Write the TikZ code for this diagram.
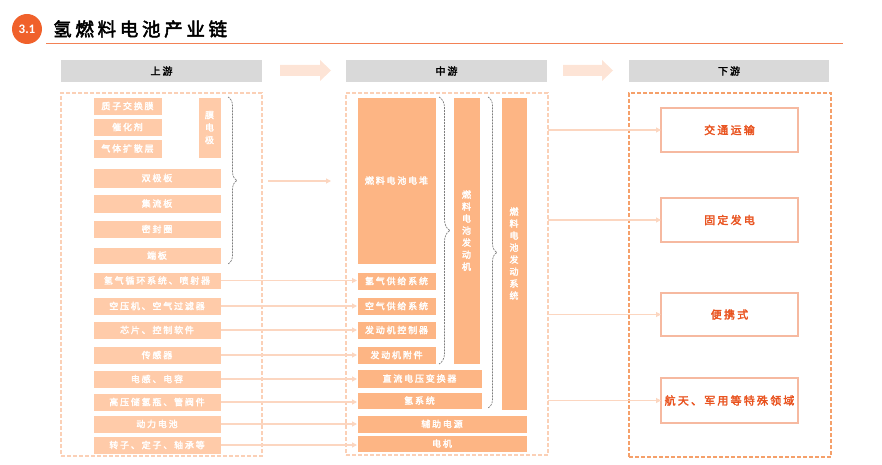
\documentclass[tikz,border=0pt]{standalone}
\usepackage{fontspec}
\newfontfamily\cjk[LetterSpace=20,FakeBold=2.6]{Noto Sans CJK SC}
\newfontfamily\numfont{Carlito}
\usetikzlibrary{arrows.meta,decorations.pathreplacing}
\definecolor{upfill}{HTML}{FFCBA9}
\definecolor{midfill}{HTML}{FDB584}
\definecolor{hdr}{HTML}{D9D9D9}
\definecolor{lightdash}{HTML}{FBD0B6}
\definecolor{downdash}{HTML}{F5A06A}
\definecolor{arrc}{HTML}{FCD6C0}
\definecolor{bigarr}{HTML}{FDE4D6}
\definecolor{downtxt}{HTML}{E9531F}
\definecolor{downbd}{HTML}{F6B9A0}
\definecolor{titleor}{HTML}{F0612B}
\definecolor{brgray}{HTML}{7F7F7F}
\newcommand\bx[7]{\node[#6, minimum width={(#4-#2)*1pt}, minimum height={(#5-#3)*1pt}] (#1) at ({(#2+#4)/2},{(#3+#5)/2}) {#7};}
\tikzset{
  boxbase/.style={rectangle, inner sep=0pt, outer sep=0pt},
  upb/.style={boxbase, fill=upfill, draw=white, line width=0.8pt, text=white, font=\cjk\fontsize{9}{12.5}\selectfont},
  midb/.style={boxbase, fill=midfill, draw=white, line width=0.8pt, text=white, font=\cjk\fontsize{9}{12}\selectfont},
  downb/.style={boxbase, fill=white, draw=downbd, line width=1.2pt, text=downtxt, font=\cjk\fontsize{11}{12}\selectfont},
  hdrb/.style={boxbase, fill=hdr, text=black, font=\cjk\fontsize{10}{12}\selectfont},
  cont/.style={boxbase, draw=lightdash, line width=1.2pt, dash pattern=on 4pt off 2pt},
  contd/.style={boxbase, draw=downdash, line width=1.2pt, dash pattern=on 4pt off 2pt},
  conn/.style={draw=arrc, line width=1.1pt, -{Triangle[width=5pt,length=5pt]}},
  bracegray/.style={draw=brgray, line width=0.7pt, dash pattern=on 2pt off 1pt, decorate},
}
\begin{document}
\begin{tikzpicture}[x=1pt,y=-1pt]
\useasboundingbox (0,0) rectangle (882,465);
% title
\node[circle, fill=titleor, minimum size=30pt, inner sep=0pt, text=white, font=\numfont\bfseries\fontsize{13}{13}\selectfont] (num) at (27,29) {3.1};
\node[anchor=west, inner sep=0pt, font=\cjk\fontsize{18.5}{19}\selectfont] (title) at (53,29) {氢燃料电池产业链};
\coordinate (ul1) at (46,44);
\coordinate (ul2) at (843,44);
\draw[titleor!80, line width=1pt] (ul1) -- (ul2);
% headers
\bx{h1}{61}{60}{262}{82}{hdrb}{上游}
\bx{h2}{346}{60}{547}{82}{hdrb}{中游}
\bx{h3}{629}{60}{829}{82}{hdrb}{下游}
\fill[bigarr] (280,65) -- (320,65) -- (320,60) -- (331,70.5) -- (320,81) -- (320,76) -- (280,76) -- cycle;
\fill[bigarr] (563,65) -- (602,65) -- (602,60) -- (613,70.5) -- (602,81) -- (602,76) -- (563,76) -- cycle;
% containers
\bx{upbox}{61}{93}{262}{456}{cont}{}
\bx{midbox}{346}{93}{548}{455}{cont}{}
\bx{downbox}{629}{93}{831}{457}{contd}{}
% upstream
\bx{u1}{93}{97}{162}{115}{upb}{质子交换膜}
\bx{u2}{93}{118}{162}{136}{upb}{催化剂}
\bx{u3}{93}{139}{162}{158}{upb}{气体扩散层}
\bx{u4}{198}{97}{221}{158}{upb,align=center}{膜\\电\\极}
\bx{u5}{93}{168}{221}{188}{upb}{双极板}
\bx{u6}{93}{194}{221}{213}{upb}{集流板}
\bx{u7}{93}{220}{221}{238}{upb}{密封圈}
\bx{u8}{93}{247}{221}{264}{upb}{端板}
\bx{u9}{93}{272}{221}{289}{upb}{氢气循环系统、喷射器}
\bx{u10}{93}{297}{221}{315}{upb}{空压机、空气过滤器}
\bx{u11}{93}{321}{221}{339}{upb}{芯片、控制软件}
\bx{u12}{93}{346}{221}{364}{upb}{传感器}
\bx{u13}{93}{370}{221}{388}{upb}{电感、电容}
\bx{u14}{93}{393}{221}{411}{upb}{高压储氢瓶、管阀件}
\bx{u15}{93}{415}{221}{433}{upb}{动力电池}
\bx{u16}{93}{436}{221}{454}{upb}{转子、定子、轴承等}
% midstream
\bx{m1}{357}{97}{436}{264}{midb}{燃料电池电堆}
\bx{m2}{453}{97}{480}{364}{midb,align=center}{燃\\料\\电\\池\\发\\动\\机}
\bx{m3}{501}{97}{527}{410}{midb,align=center}{燃\\料\\电\\池\\发\\动\\系\\统}
\bx{m4}{357}{272}{436}{290}{midb}{氢气供给系统}
\bx{m5}{357}{297}{436}{315}{midb}{空气供给系统}
\bx{m6}{357}{321}{436}{339}{midb}{发动机控制器}
\bx{m7}{357}{346}{436}{364}{midb}{发动机附件}
\bx{m8}{357}{369}{482}{388}{midb}{直流电压变换器}
\bx{m9}{357}{392}{482}{409}{midb}{氢系统}
\bx{m10}{357}{415}{527}{433}{midb}{辅助电源}
\bx{m11}{357}{435}{527}{452}{midb}{电机}
% downstream
\bx{d1}{661}{108}{798}{152}{downb}{交通运输}
\bx{d2}{661}{198}{798}{242}{downb}{固定发电}
\bx{d3}{661}{293}{798}{336}{downb}{便携式}
\bx{d4}{661}{378}{798}{423}{downb}{航天、军用等特殊领域}
% braces
\draw[bracegray, decoration={brace, amplitude=9pt}] (228,97) -- (228,264);
\draw[bracegray, decoration={brace, amplitude=11pt}] (439,97) -- (439,364);
\draw[bracegray, decoration={brace, amplitude=9pt}] (488,97) -- (488,408);
% connectors
\coordinate (sa) at (268,181);
\coordinate (sb) at (331,181);
\draw[conn] (sa) -- (sb);
\foreach \a/\b in {u9/m4,u10/m5,u11/m6,u12/m7,u13/m8,u14/m9,u15/m10,u16/m11}
  \draw[conn] (\a.east) -- (\a.east -| \b.west);
\foreach \d in {d1,d2,d3,d4}
  \draw[conn] (\d.west -| midbox.east) -- (\d.west);
\end{tikzpicture}
\end{document}
